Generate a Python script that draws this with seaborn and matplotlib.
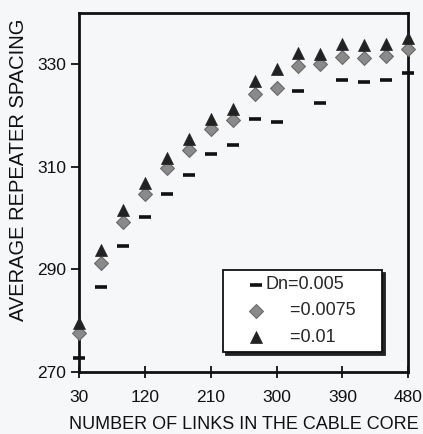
import matplotlib
matplotlib.use("Agg")
import matplotlib.pyplot as plt
import pandas as pd
import seaborn as sns

# number of links in the cable core
links = [30, 60, 90, 120, 150, 180, 210, 240, 270, 300, 330, 360, 390, 420, 450, 480]

# average repeater spacing for each Dn value
dn_005 = [272.7, 286.5, 294.5, 300.3, 304.8, 308.5, 312.6, 314.3,
          319.4, 318.8, 324.8, 322.5, 327.0, 326.6, 327.0, 328.3]
dn_0075 = [277.6, 291.2, 299.2, 304.8, 309.8, 313.2, 317.4, 319.2,
           324.2, 325.4, 329.7, 330.1, 331.5, 331.2, 331.6, 333.0]
dn_01 = [279.5, 293.7, 301.5, 306.9, 311.8, 315.5, 319.4, 321.3,
         326.8, 329.1, 332.2, 332.0, 333.9, 333.8, 333.9, 335.1]

series_labels = ["Dn=0.005", "     =0.0075    ", "     =0.01"]
x_ticks = [30, 120, 210, 300, 390, 480]
y_ticks = [270, 290, 310, 330]

sns.set_theme(style="white")
plt.rcParams["font.family"] = ["Liberation Sans", "DejaVu Sans"]

fig = plt.figure(figsize=(4.23, 4.34), dpi=100)
fig.patch.set_facecolor("#f6f7f9")
ax = fig.add_axes([0.187, 0.143, 0.778, 0.827])
ax.set_facecolor("#f6f7f9")

df = pd.DataFrame({"links": links, "a": dn_005, "b": dn_0075, "c": dn_01})

sns.scatterplot(data=df, x="links", y="a", marker="_", color="#111111",
                s=80, linewidth=2.6, label=series_labels[0], ax=ax, clip_on=False, zorder=3)
sns.scatterplot(data=df, x="links", y="b", marker="D", color="#8a8a8a",
                edgecolor="#6a6a6a", s=50, linewidth=0.8, label=series_labels[1],
                ax=ax, clip_on=False, zorder=3)
sns.scatterplot(data=df, x="links", y="c", marker="^", color="#222222",
                edgecolor="#222222", s=75, linewidth=0.5, label=series_labels[2],
                ax=ax, clip_on=False, zorder=4)

ax.set_xlim(30, 480)
ax.set_ylim(270, 340)
ax.set_xticks(x_ticks)
ax.set_yticks(y_ticks)

for sp in ax.spines.values():
    sp.set_color("#111111")
    sp.set_linewidth(2)
    sp.set_visible(True)

ax.tick_params(axis="x", direction="inout", length=8, width=1.3, pad=9,
               labelsize=12.5, colors="#111111", bottom=True)
ax.tick_params(axis="y", direction="out", length=6, width=1.3, pad=3.5,
               labelsize=12.5, colors="#111111", left=True)

ax.set_xlabel("NUMBER OF LINKS IN THE CABLE CORE", fontsize=13, color="#111111", labelpad=8)
ax.set_ylabel("AVERAGE REPEATER SPACING", fontsize=14.5, color="#111111")
ax.yaxis.set_label_coords(-0.155, 0.563)

leg = ax.legend(loc="lower right", bbox_to_anchor=(0.921, 0.056), borderaxespad=0,
                frameon=True, fancybox=False, shadow={"color": "#222222", "alpha": 1},
                fontsize=13, handletextpad=-1.0, borderpad=0.35, labelspacing=0.5,
                handlelength=3.0)
leg.get_frame().set_edgecolor("#111111")
leg.get_frame().set_linewidth(1.3)
leg.get_frame().set_facecolor("white")

fig.savefig("out.png", dpi=100, facecolor=fig.get_facecolor())
